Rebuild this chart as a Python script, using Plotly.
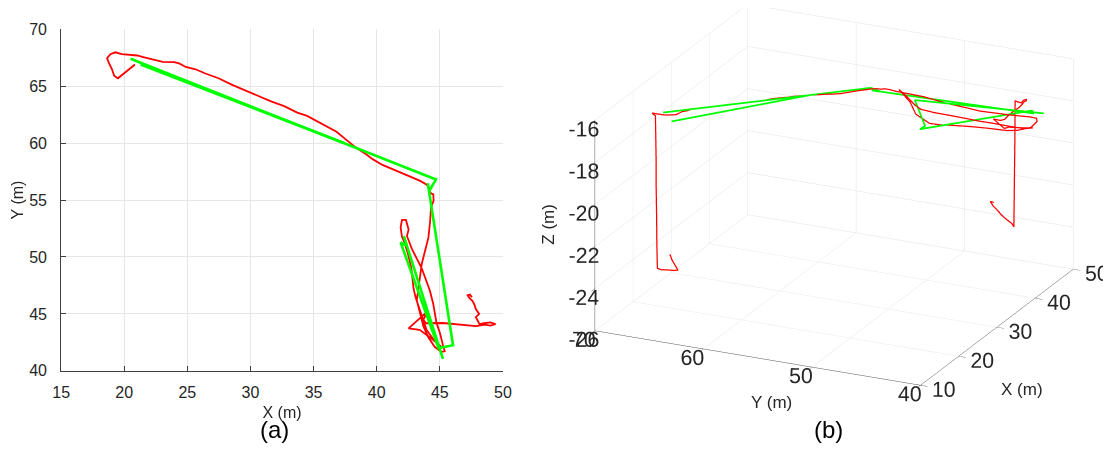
import plotly.graph_objects as go

# ---------------- data ----------------
red_x = [20.85, 20.45, 20.00, 19.50, 19.20, 19.03, 18.80, 18.70, 18.70, 18.72, 18.67, 18.70, 18.66, 18.64,
         18.90, 19.29, 19.81, 20.46, 21.03, 21.50, 22.27, 23.05, 23.96, 24.35, 24.87, 25.65, 26.43, 27.47,
         28.51, 29.55, 30.59, 31.63, 32.67, 33.71, 34.49, 35.26, 36.04, 36.82, 37.60, 38.38, 39.16, 39.68,
         40.46, 41.50, 42.54, 43.45, 43.97, 44.15, 44.23, 44.49, 44.51, 44.31, 44.23, 44.10, 43.84, 43.58,
         43.45, 43.36, 43.18, 43.44, 43.70, 44.09, 44.61, 45.13, 45.39,
         45.26, 45.00, 44.74, 44.61, 44.48, 44.22, 43.96, 43.57, 43.18, 42.79, 42.40, 42.53, 42.32, 42.01,
         41.90, 42.00,
         42.20, 42.50, 42.75, 42.92, 43.10, 43.44, 43.96, 44.61, 45.20, 44.40, 43.40, 42.53, 43.30, 44.09,
         43.70, 43.90, 45.26, 46.20, 47.08, 47.86, 48.60, 49.00, 49.42, 49.00, 48.50, 48.15, 47.99, 47.90,
         47.90, 47.88, 47.86, 48.12, 47.86, 47.73, 47.60, 47.34, 47.21, 47.39, 47.55]
red_y = [66.90, 66.55, 66.10, 65.69, 65.92, 66.48, 67.00, 67.30, 67.35, 67.38, 67.40, 67.42, 67.44, 67.46,
         67.80, 67.97, 67.80, 67.72, 67.69, 67.55, 67.32, 67.13, 67.10, 66.99, 66.68, 66.48, 66.11, 65.69,
         65.13, 64.62, 64.17, 63.66, 63.24, 62.68, 62.39, 61.92, 61.41, 60.99, 60.28, 59.58, 59.01, 58.59,
         58.08, 57.61, 57.13, 56.68, 56.34, 56.06, 55.63, 55.49, 54.93, 54.36, 53.09, 51.69, 50.56, 49.43,
         48.40, 47.50, 46.19, 45.06, 43.93, 42.94, 42.09, 41.67, 41.72,
         42.23, 43.36, 44.21, 45.06, 45.90, 47.03, 47.88, 49.01, 49.86, 50.71, 51.84, 52.40, 53.25, 53.25,
         52.60, 51.80,
         51.30, 50.20, 49.00, 47.25, 46.40, 45.28, 43.59, 42.60, 42.04, 42.80, 43.60, 43.73, 44.50, 45.28,
         44.50, 44.18, 44.20, 44.10, 43.96, 43.93, 44.05, 43.98, 44.10, 44.25, 44.18, 44.10, 44.44, 44.62,
         44.64, 44.68, 44.72, 45.00, 45.42, 45.85, 46.13, 46.41, 46.63, 46.69, 46.46]
red_z = [-23.60, -23.80, -23.95, -24.05, -24.05, -24.05, -24.05, -24.00, -22.80, -21.50, -20.20, -18.80, -17.60, -16.75,
         -16.72, -16.75, -16.85, -16.95, -17.05, -17.12, -17.20, -17.28, -17.32, -17.30, -17.30, -17.30, -17.35, -17.40,
         -17.45, -17.50, -17.55, -17.60, -17.65, -17.68, -17.70, -17.72, -17.75, -17.77, -17.78, -17.80, -17.83, -17.86,
         -17.90, -17.93, -17.96, -18.00, -18.00, -18.00, -18.00, -18.00, -18.00, -18.00, -18.00, -18.00, -18.02, -18.04,
         -18.05, -18.06, -18.08, -18.10, -18.12, -18.15, -18.20, -18.30, -18.50,
         -18.80, -19.00, -19.05, -19.05, -19.05, -19.05, -19.05, -19.05, -19.05, -19.00, -18.60, -18.10, -17.60, -17.50,
         -17.70, -18.10,
         -18.30, -18.40, -18.45, -18.50, -18.55, -18.60, -18.70, -18.80, -18.80, -18.75, -18.65, -18.60, -18.55, -18.50,
         -18.45, -18.40, -18.35, -18.30, -18.25, -18.20, -18.20, -18.20, -18.20, -18.20, -18.20, -18.20, -18.15, -18.10,
         -20.00, -22.00, -24.10, -24.00, -23.80, -23.60, -23.40, -23.20, -23.00, -23.00, -23.05]

gt1_x = [20.5, 44.7, 44.15]
gt1_y = [67.4, 56.8, 55.77]
gt1_z = [-16.85, -18.1, -18.1]

gt2_x = [21.3, 37.4]
gt2_y = [66.9, 60.0]
gt2_z = [-17.34, -17.73]

gt3_x = [44.05, 46.05, 44.9, 41.9, 42.41, 42.15, 45.25]
gt3_y = [56.47, 42.25, 42.0, 51.27, 50.98, 51.83, 41.05]
gt3_z = [-18.1, -18.25, -17.93, -19.2, -19.1, -17.9, -18.03]

x2d_ticks = [15, 20, 25, 30, 35, 40, 45, 50]
y2d_ticks = [40, 45, 50, 55, 60, 65, 70]
x3d_ticks = [10, 20, 30, 40, 50]
y3d_ticks = [40, 50, 60, 70]
z3d_ticks = [-26, -24, -22, -20, -18, -16]
z3d_labels = ['-26', '-24', '-22', '-20', '-18', '-16']

RED = '#ff0000'
GREEN = '#00ff00'
FONT = 'Liberation Sans'
TXT = '#262626'

fig = go.Figure()

# ---------------- panel (a) ----------------
fig.add_trace(go.Scatter(x=red_x, y=red_y, mode='lines', line=dict(color=RED, width=1.8),
                         xaxis='x', yaxis='y', showlegend=False, hoverinfo='skip'))
for gx, gy in [(gt1_x, gt1_y), (gt2_x, gt2_y), (gt3_x, gt3_y)]:
    fig.add_trace(go.Scatter(x=gx, y=gy, mode='lines', line=dict(color=GREEN, width=2.6),
                             xaxis='x', yaxis='y', showlegend=False, hoverinfo='skip'))

# ---------------- panel (b) ----------------
fig.add_trace(go.Scatter3d(x=red_x, y=red_y, z=red_z, mode='lines', line=dict(color=RED, width=2.5),
                           scene='scene', showlegend=False, hoverinfo='skip'))
for gx, gy, gz in [(gt1_x, gt1_y, gt1_z), (gt2_x, gt2_y, gt2_z), (gt3_x, gt3_y, gt3_z)]:
    fig.add_trace(go.Scatter3d(x=gx, y=gy, z=gz, mode='lines', line=dict(color=GREEN, width=3.5),
                               scene='scene', showlegend=False, hoverinfo='skip'))

W, H = 1112, 453
ax2d = dict(showgrid=True, gridcolor='#e6e6e6', gridwidth=1, zeroline=False, showline=True,
            linecolor='#404040', linewidth=1, ticks='inside', ticklen=5, tickcolor='#404040',
            tickfont=dict(family=FONT, size=16, color=TXT), mirror=False)

ax3d = dict(showbackground=False, gridcolor='#e2e2e2', gridwidth=1, showline=True, linecolor='#555555',
            linewidth=1, ticks='outside', ticklen=8, tickcolor='#555555', tickangle=0,
            tickfont=dict(family=FONT, size=16, color=TXT), zeroline=False, showspikes=False,
            title=dict(text=''))

# camera: view direction and screen vectors
d = (-0.8458, -0.3968, 0.3564)
r1 = (0.4247, -0.9053, 0.0)
r2 = (0.3227, 0.1513, 0.9343)
f = 1.65          # box size factor (orthographic zoom)
k = 3.0
s = 220.0         # px per normalised unit
sh_up, sh_right = 31.5, 4.6
cen = [-(sh_up / s) * r2[i] - (sh_right / s) * r1[i] for i in range(3)]
eye = [k * d[i] + cen[i] for i in range(3)]

title_font = dict(family=FONT, size=17, color=TXT)
fig.update_layout(
    width=W, height=H, margin=dict(l=0, r=0, t=0, b=0),
    paper_bgcolor='white', plot_bgcolor='white',
    xaxis=dict(ax2d, domain=[53 / W, 502 / W], range=[15, 50], tickvals=x2d_ticks, ticklabelstandoff=7,
               title=dict(text='X (m)', font=dict(family=FONT, size=16, color=TXT), standoff=6)),
    yaxis=dict(ax2d, domain=[1 - 377 / H, 1 - 22 / H], range=[40, 70], tickvals=y2d_ticks, ticklabelstandoff=10,
               title=dict(text='Y (m)', font=dict(family=FONT, size=16, color=TXT), standoff=1)),
    scene=dict(
        domain=dict(x=[0.5, 1.0], y=[0.0, 1.0]),
        xaxis=dict(ax3d, range=[10, 50], tickvals=x3d_ticks),
        yaxis=dict(ax3d, range=[40, 70], tickvals=y3d_ticks),
        zaxis=dict(ax3d, range=[-26, -16], tickvals=z3d_ticks, ticktext=z3d_labels),
        aspectmode='manual', aspectratio=dict(x=f, y=f, z=0.626 * f),
        camera=dict(eye=dict(x=eye[0], y=eye[1], z=eye[2]), up=dict(x=0, y=0, z=1),
                    center=dict(x=cen[0], y=cen[1], z=cen[2]), projection=dict(type='orthographic')),
        bgcolor='white'),
    annotations=[
        dict(text='(a)', x=270 / W, y=1 - 438 / H, xref='paper', yref='paper', showarrow=False,
             font=dict(family=FONT, size=24, color='black'), xanchor='center', yanchor='middle'),
        dict(text='(b)', x=833 / W, y=1 - 438 / H, xref='paper', yref='paper', showarrow=False,
             font=dict(family=FONT, size=24, color='black'), xanchor='center', yanchor='middle'),
        dict(text='Z (m)', x=548 / W, y=1 - 225 / H, xref='paper', yref='paper', showarrow=False,
             textangle=-90, font=title_font, xanchor='center', yanchor='middle'),
        dict(text='Y (m)', x=775 / W, y=1 - 410 / H, xref='paper', yref='paper', showarrow=False,
             font=title_font, xanchor='center', yanchor='middle'),
        dict(text='X (m)', x=1030 / W, y=1 - 396 / H, xref='paper', yref='paper', showarrow=False,
             font=title_font, xanchor='center', yanchor='middle'),
    ],
    hovermode=False,
)

fig.write_html('out.html')
